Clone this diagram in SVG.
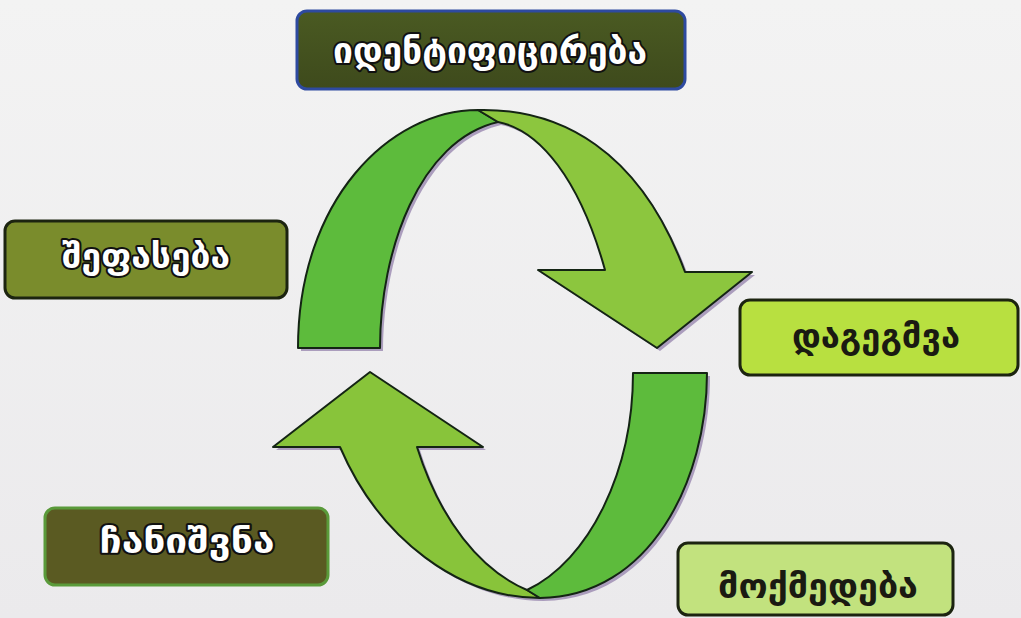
<svg xmlns="http://www.w3.org/2000/svg" width="1021" height="618" viewBox="0 0 1021 618">
<style>
.lbl{font-family:"DejaVu Sans","Noto Sans",sans-serif;font-weight:bold;text-anchor:middle}
.light{fill:#ffffff;stroke:#111111;stroke-width:4;paint-order:stroke;stroke-linejoin:round}
.dark{fill:#1a1a12}
.band{stroke:#142414;stroke-width:2;stroke-linejoin:round}
.shadow{fill:#9a88b0;opacity:0.8}
</style>
<defs>
<linearGradient id="bg" x1="0" y1="0" x2="0" y2="1"><stop offset="0" stop-color="#f3f3f3"/><stop offset="1" stop-color="#ebeaec"/></linearGradient>
<linearGradient id="olive" x1="0" y1="0" x2="0" y2="1"><stop offset="0" stop-color="#4a5a22"/><stop offset="1" stop-color="#3e4a1c"/></linearGradient>
</defs>
<rect width="1021" height="618" fill="url(#bg)"/>
<g id="connectors">
 <g id="arrow-top">
  <path class="shadow" d="M301,351 C301,200 392,113 481,113 C563,111 643,153 688,275 L755,275 L660,351 L541,273 L608,273 C583,183 543,133 501,125 C423,143 383,253 383,351 Z"/>
  <path class="band" fill="#5dbb3c" d="M298,348 C298,200 390,110 478,110 L498,122 C420,140 380,250 380,348 Z"/>
  <path class="band" fill="#8cc63e" d="M478,110 C560,108 640,150 685,272 L752,272 L657,348 L538,270 L605,270 C580,180 540,130 498,122 Z"/>
 </g>
 <g id="arrow-bottom">
  <path class="shadow" d="M636,376 L710,376 C710,483 653,600 543,601 C463,601 383,543 343,450 L276,450 L373,375 L486,450 L420,450 C443,523 483,573 530,593 C593,563 636,473 636,376 Z"/>
  <path class="band" fill="#88c43a" d="M527,590 L540,598 C460,598 380,540 340,447 L273,447 L370,372 L483,447 L417,447 C440,520 480,570 527,590 Z"/>
  <path class="band" fill="#5dbb3c" d="M633,373 L707,373 C707,480 650,597 540,598 L527,590 C590,560 633,470 633,373 Z"/>
 </g>
</g>
<g id="node-identification">
 <rect x="297" y="11" width="388" height="78" rx="10" fill="url(#olive)" stroke="#2e4aa0" stroke-width="3"/>
 <text class="lbl light" x="490" y="63" font-size="36" textLength="314" lengthAdjust="spacingAndGlyphs">იდენტიფიცირება</text>
</g>
<g id="node-evaluation">
 <rect x="5" y="221" width="282" height="77" rx="10" fill="#7a8c2c" stroke="#1c2410" stroke-width="3"/>
 <text class="lbl light" x="146" y="268" font-size="34" textLength="168" lengthAdjust="spacingAndGlyphs">შეფასება</text>
</g>
<g id="node-planning">
 <rect x="740" y="300" width="278" height="75" rx="10" fill="#b8e040" stroke="#1c2410" stroke-width="3"/>
 <text class="lbl dark" x="876" y="348" font-size="34" textLength="168" lengthAdjust="spacingAndGlyphs">დაგეგმვა</text>
</g>
<g id="node-action">
 <rect x="678" y="543" width="275" height="72" rx="10" fill="#c2e27e" stroke="#1c2410" stroke-width="3"/>
 <text class="lbl dark" x="818" y="598" font-size="34" textLength="200" lengthAdjust="spacingAndGlyphs">მოქმედება</text>
</g>
<g id="node-recording">
 <rect x="45" y="508" width="283" height="77" rx="10" fill="#5a5a22" stroke="#5a9a3a" stroke-width="3"/>
 <text class="lbl light" x="187" y="553" font-size="34" textLength="175" lengthAdjust="spacingAndGlyphs">ჩანიშვნა</text>
</g>
</svg>
